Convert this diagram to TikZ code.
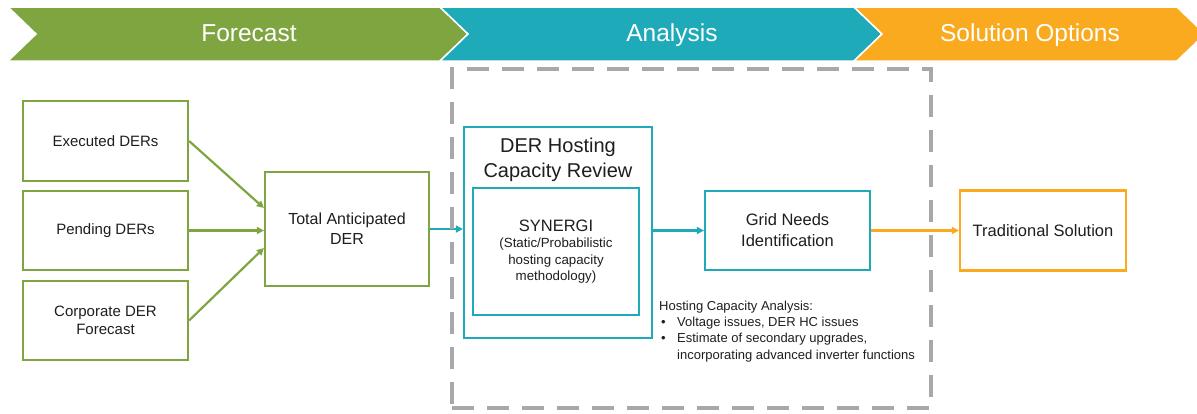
\documentclass[tikz,border=0pt]{standalone}
\usepackage{fontspec}
\setmainfont{Liberation Sans}
\usetikzlibrary{arrows.meta}
\definecolor{fgreen}{RGB}{127,165,65}
\definecolor{fteal}{RGB}{30,170,185}
\definecolor{forange}{RGB}{249,170,31}
\definecolor{dgray}{RGB}{168,168,168}
\definecolor{txt}{RGB}{30,30,30}
\begin{document}
\begin{tikzpicture}[x=1pt,y=-1pt,
  box/.style={draw,line width=2.2pt,fill=white,text=txt,align=center,inner sep=0pt},
  gbox/.style={box,draw=fgreen,font=\fontsize{15}{18}\selectfont,minimum width=165pt,minimum height=79pt},
  tbox/.style={box,draw=fteal},
  obox/.style={box,draw=forange},
  conn/.style={line width=2.2pt,-{Triangle[length=7pt,width=7pt]}},
  bannertext/.style={text=white,anchor=base,font=\fontsize{24.5}{28}\selectfont},
  frame/.style={draw=dgray,line width=4pt,dash pattern=on 22pt off 13pt,minimum width=479pt,minimum height=339pt,inner sep=0pt}
]
\clip (0,0) rectangle (1197,413);
% banner
\filldraw[fill=fgreen,draw=white,line width=1.5pt] (8,7) -- (440,7) -- (468,34) -- (440,61) -- (8,61) -- (36,34) -- cycle;
\filldraw[fill=fteal,draw=white,line width=1.5pt] (440,7) -- (854,7) -- (882,34) -- (854,61) -- (440,61) -- (468,34) -- cycle;
\filldraw[fill=forange,draw=white,line width=1.5pt] (854,7) -- (1177,7) -- (1205,34) -- (1177,61) -- (854,61) -- (882,34) -- cycle;
\node[bannertext] (bf) at (249,41) {Forecast};
\node[bannertext] (ba) at (672,41) {Analysis};
\node[bannertext] (bs) at (1030,41) {Solution Options};

% forecast boxes
\node[gbox,minimum height=80pt] (e) at (105.5,141) {Executed DERs};
\node[gbox] (p) at (105.5,230.5) {Pending DERs};
\node[gbox] (c) at (105.5,320.5) {Corporate DER\\Forecast};
\node[gbox,font=\fontsize{16}{20}\selectfont,minimum width=164pt,minimum height=114pt] (t) at (347,229) {Total Anticipated\\DER};

% analysis boxes
\node[tbox,minimum width=188pt,minimum height=211pt] (hc) at (558,232.5) {};
\node[text=txt,align=center,font=\fontsize{20}{25}\selectfont] (hct) at (558,159.5) {DER Hosting\\Capacity Review};
\node[tbox,minimum width=166pt,minimum height=127pt,font=\fontsize{13.3}{16.5}\selectfont] (syn) at (556,251.5)
  {\fontsize{16.5}{18}\selectfont SYNERGI\\
   \fontsize{13.3}{16.5}\selectfont (Static/Probabilistic\\hosting capacity\\methodology)};
\node[tbox,font=\fontsize{16.5}{21}\selectfont,minimum width=165pt,minimum height=79pt] (g) at (787.5,230.5) {Grid Needs\\Identification};
\node[text=txt,align=left,anchor=north west,inner sep=0pt,font=\fontsize{13}{16.3}\selectfont] (note) at (659,300.5)
  {Hosting Capacity Analysis:\\
   \makebox[18pt][l]{\hspace{2pt}•}Voltage issues, DER HC issues\\
   \makebox[18pt][l]{\hspace{2pt}•}Estimate of secondary upgrades,\\
   \hspace*{18pt}incorporating advanced inverter functions};

% solution box
\node[obox,font=\fontsize{16.5}{20}\selectfont,minimum width=166pt,minimum height=80pt] (ts) at (1043,230.5) {Traditional Solution};

% connectors
\draw[conn,fgreen] (e.east) -- ([yshift=21pt]t.west);
\draw[conn,fgreen] (p.east) -- (p.east -| t.west);
\draw[conn,fgreen] (c.east) -- ([yshift=-19pt]t.west);
\draw[conn,fteal] (t.east) -- (t.east -| hc.west);
\draw[conn,fteal] (g.west -| hc.east) -- (g.west);
\draw[conn,forange] (g.east) -- (ts.west);

% dashed analysis frame
\node[frame] (fr) at (691.5,238.5) {};
\end{tikzpicture}
\end{document}
